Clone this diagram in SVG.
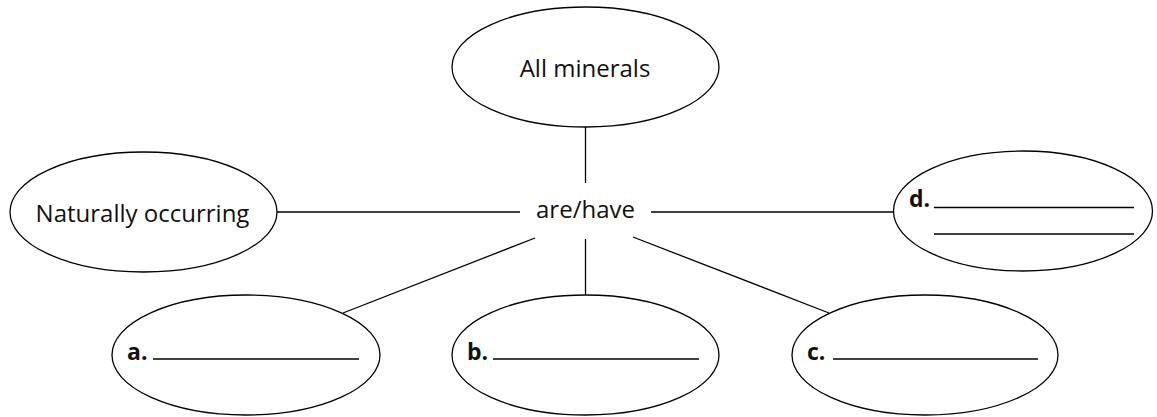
<svg xmlns="http://www.w3.org/2000/svg" width="1157" height="417" viewBox="0 0 1157 417">
<style>
.node ellipse{fill:#fff;stroke:#000;stroke-width:1.3}
.conn line{stroke:#000;stroke-width:1.3}
.blank{stroke:#000;stroke-width:1.3}
text{font-family:"Open Sans","Liberation Sans",sans-serif;font-size:24px;fill:#111}
.lbl{font-weight:bold;text-anchor:start;font-size:23px}
.mid{text-anchor:middle}
</style>
<rect width="1157" height="417" fill="#fff"/>
<g id="connectors" class="conn">
<line x1="585.5" y1="127" x2="585.5" y2="183"/>
<line x1="277" y1="212" x2="520" y2="212"/>
<line x1="651" y1="212" x2="894" y2="212"/>
<line x1="535" y1="238" x2="343" y2="313"/>
<line x1="585.5" y1="239" x2="585.5" y2="295"/>
<line x1="633" y1="237" x2="829" y2="313"/>
</g>
<g id="all-minerals" class="node">
<ellipse cx="585.5" cy="67" rx="133.5" ry="60"/>
<text class="mid" x="585" y="77">All minerals</text>
</g>
<g id="are-have">
<text class="mid" x="585.5" y="218">are/have</text>
</g>
<g id="naturally-occurring" class="node">
<ellipse cx="143.5" cy="212" rx="133.5" ry="60"/>
<text class="mid" x="142.5" y="222">Naturally occurring</text>
</g>
<g id="d" class="node">
<ellipse cx="1023" cy="211" rx="129.5" ry="60"/>
<text class="lbl" x="909" y="207">d.</text>
<line class="blank" x1="934" y1="207.5" x2="1134" y2="207.5"/>
<line class="blank" x1="934" y1="234" x2="1134" y2="234"/>
</g>
<g id="a" class="node">
<ellipse cx="246" cy="355" rx="134" ry="60"/>
<text class="lbl" x="127" y="360">a.</text>
<line class="blank" x1="153" y1="359" x2="359" y2="359"/>
</g>
<g id="b" class="node">
<ellipse cx="585.5" cy="355" rx="133.5" ry="60"/>
<text class="lbl" x="467" y="360">b.</text>
<line class="blank" x1="493" y1="359" x2="699" y2="359"/>
</g>
<g id="c" class="node">
<ellipse cx="925" cy="355" rx="133" ry="60"/>
<text class="lbl" x="807" y="360">c.</text>
<line class="blank" x1="833" y1="359" x2="1038" y2="359"/>
</g>
</svg>
